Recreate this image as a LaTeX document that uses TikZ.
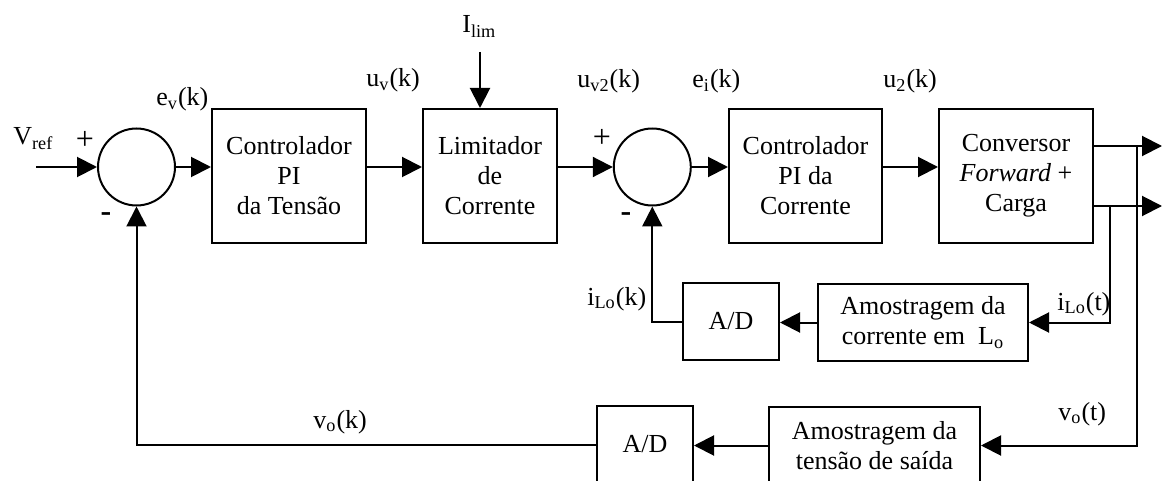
\documentclass[tikz,border=0pt]{standalone}
\usepackage{fontspec}
\setmainfont{Liberation Serif}
\usetikzlibrary{arrows.meta}
\begin{document}
\begin{tikzpicture}[x=0.5pt,y=-0.5pt,
  font=\fontsize{13}{15}\selectfont,
  blk/.style={draw,line width=1pt,align=center,inner sep=0pt},
  sumc/.style={draw,circle,line width=1pt,minimum size=38.5pt,inner sep=0pt},
  lbl/.style={inner sep=0pt,anchor=base west},
  sgn/.style={inner sep=0pt,font=\fontsize{16}{16}\selectfont},
  sig/.style={line width=1pt,-{Triangle[length=10pt,width=10pt]}},
  wire/.style={line width=1pt}]
\useasboundingbox (0,0) rectangle (1163,481);
\clip (0,0) rectangle (1163,481);
% summing junctions
\node[sumc] (s1) at (136.5,167) {};
\node[sumc] (s2) at (652.3,167) {};
% blocks
\node[blk,minimum width=77pt,minimum height=67pt] (b1) at (289,176) {Controlador\\PI\\da Tensão};
\node[blk,minimum width=67pt,minimum height=67pt] (b2) at (490,176) {Limitador\\de\\Corrente};
\node[blk,minimum width=76.5pt,minimum height=67pt] (b3) at (805.5,176) {Controlador\\PI da\\Corrente};
\node[blk,minimum width=77pt,minimum height=67pt] (b4) at (1016,176) {Conversor\\\textit{Forward} +\\Carga};
\node[blk,minimum width=105pt,minimum height=38.5pt] (ac) at (923,322.5) {Amostragem da\\corrente em\ \ L\textsubscript{o}};
\node[blk,minimum width=48pt,minimum height=38.5pt] (ad1) at (731,321.5) {A/D};
\node[blk,minimum width=105.5pt,minimum height=38.5pt] (at) at (874.5,445.5) {Amostragem da\\tensão de saída};
\node[blk,minimum width=48pt,minimum height=38.5pt] (ad2) at (645,444.5) {A/D};
% labels
\node[lbl] (lvref) at (13,145) {V\textsubscript{ref}};
\node[sgn] (p1) at (85,140) {+};
\node[sgn] (m1) at (106,217) {\textbf{-}};
\node[lbl] (lev) at (156,106) {e\textsubscript{v}(k)};
\node[lbl] (luv) at (366,87) {u\textsubscript{v}(k)};
\node[lbl] (lilim) at (462,33) {I\textsubscript{lim}};
\node[lbl] (luv2) at (577,88) {u\textsubscript{v2}(k)};
\node[sgn] (p2) at (602,138) {+};
\node[sgn] (m2) at (626,217) {\textbf{-}};
\node[lbl] (lei) at (692,88) {e\textsubscript{i}(k)};
\node[lbl] (lu2) at (883,88) {u\textsubscript{2}(k)};
\node[lbl] (lilot) at (1057,310) {i\textsubscript{Lo}(t)};
\node[lbl] (lilok) at (587,305) {i\textsubscript{Lo}(k)};
\node[lbl] (lvot) at (1058,420) {v\textsubscript{o}(t)};
\node[lbl] (lvok) at (313,428) {v\textsubscript{o}(k)};
% coordinates
\coordinate (vin) at (36,167);
\coordinate (ilimtop) at (480,52);
\coordinate (o1) at (1162,146);
\coordinate (o2) at (1162,206);
\coordinate (j1) at (1137,146);
\coordinate (j2) at (1110,206);
% connectors
\draw[sig] (vin) -- (s1.west);
\draw[sig] (s1.east) -- (s1.east -| b1.west);
\draw[sig] (b1.east |- s1) -- (b2.west |- s1);
\draw[sig] (b2.east |- s2) -- (s2.west);
\draw[sig] (s2.east) -- (s2.east -| b3.west);
\draw[sig] (b3.east |- s2) -- (b4.west |- s2);
\draw[sig] (ilimtop) -- (ilimtop |- b2.north);
\draw[sig] (b4.east |- o1) -- (o1);
\draw[sig] (b4.east |- o2) -- (o2);
\draw[sig] (j1) |- (at.east);
\draw[sig] (j2) |- (ac.east);
\draw[sig] (ac.west) -- (ad1.east |- ac.west);
\draw[sig] (ad1.west) -| (s2.south);
\draw[sig] (at.west) -- (ad2.east |- at.west);
\draw[sig] (ad2.west) -| (s1.south);
\end{tikzpicture}
\end{document}
